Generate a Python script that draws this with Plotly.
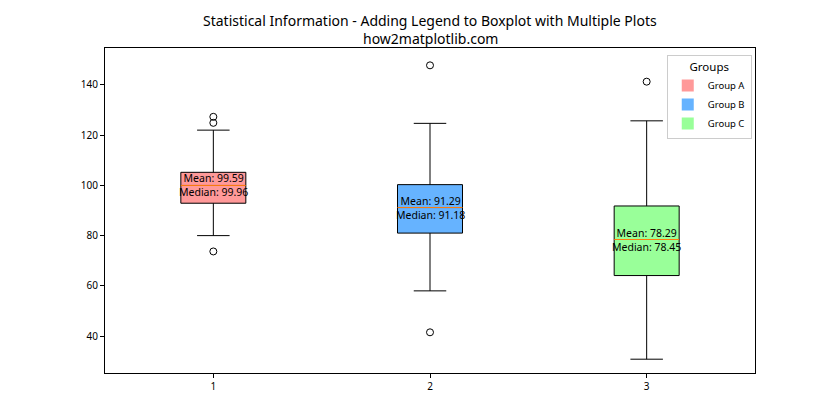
import plotly.graph_objects as go

groups = ["Group A", "Group B", "Group C"]
positions = [1, 2, 3]
q1 = [92.9, 81.0, 64.1]
medians = [99.96, 91.18, 78.45]
q3 = [105.2, 100.3, 91.8]
lower_whisker = [80.0, 58.0, 30.8]
upper_whisker = [122.0, 124.7, 125.7]
means = [99.59, 91.29, 78.29]
outliers = [[127.3, 124.9, 73.7], [147.8, 41.5], [141.3]]
colors = ["#ff9999", "#66b3ff", "#99ff99"]

box_width = 0.3
font = "Noto Sans, DejaVu Sans, sans-serif"

fig = go.Figure()
for i in range(3):
    fig.add_trace(go.Box(
        x=[positions[i]], q1=[q1[i]], median=[medians[i]], q3=[q3[i]],
        lowerfence=[lower_whisker[i]], upperfence=[upper_whisker[i]],
        width=box_width, whiskerwidth=0.5, boxpoints=False,
        fillcolor=colors[i], line=dict(color="black", width=1),
        showlegend=False, hoverinfo="skip"))
    # median line
    fig.add_trace(go.Scatter(
        x=[positions[i] - box_width / 2, positions[i] + box_width / 2],
        y=[medians[i], medians[i]], mode="lines",
        line=dict(color="#ff7f0e", width=1), showlegend=False, hoverinfo="skip"))
    # outliers
    fig.add_trace(go.Scatter(
        x=[positions[i]] * len(outliers[i]), y=outliers[i], mode="markers",
        marker=dict(symbol="circle-open", size=7, color="black", line=dict(width=1)),
        showlegend=False, hoverinfo="skip"))
    fig.add_annotation(
        x=positions[i], y=medians[i], xref="x", yref="y",
        text=f"Mean: {means[i]:.2f}<br>Median: {medians[i]:.2f}",
        showarrow=False, font=dict(family=font, size=10.5, color="black"),
        xanchor="center", yanchor="middle")

# legend entries (patches)
for i in range(3):
    fig.add_trace(go.Bar(x=[None], y=[None], name=groups[i],
                         marker=dict(color=colors[i], line=dict(width=0))))

# title lines
fig.add_annotation(text="Statistical Information - Adding Legend to Boxplot with Multiple Plots",
                   xref="paper", yref="paper", x=0.5, y=1.086, xanchor="center", yanchor="middle",
                   showarrow=False, font=dict(family=font, size=14, color="black"))
fig.add_annotation(text="how2matplotlib.com",
                   xref="paper", yref="paper", x=0.5, y=1.028, xanchor="center", yanchor="middle",
                   showarrow=False, font=dict(family=font, size=14, color="black"))

fig.update_layout(
    width=840, height=420,
    margin=dict(l=105, r=85, t=48, b=47),
    paper_bgcolor="white", plot_bgcolor="white",
    font=dict(family=font, size=10, color="black"),
    legend=dict(
        title=dict(text="Groups", font=dict(size=11.5), side="top center"),
        x=0.995, xanchor="right", y=0.978, yanchor="top",
        bgcolor="white", bordercolor="#cccccc", borderwidth=1,
        font=dict(size=9.5), itemwidth=30, tracegroupgap=0),
    showlegend=True,
)
fig.update_xaxes(range=[0.5, 3.5], tickvals=positions, ticktext=["1", "2", "3"],
                 showline=True, mirror=True, linecolor="black", linewidth=1,
                 ticks="outside", ticklen=4, tickcolor="black", showgrid=False, zeroline=False)
fig.update_yaxes(range=[25.3, 154.7], tickvals=[40, 60, 80, 100, 120, 140],
                 showline=True, mirror=True, linecolor="black", linewidth=1,
                 ticks="outside", ticklen=4, tickcolor="black", showgrid=False, zeroline=False)

fig.write_html("out.html")
